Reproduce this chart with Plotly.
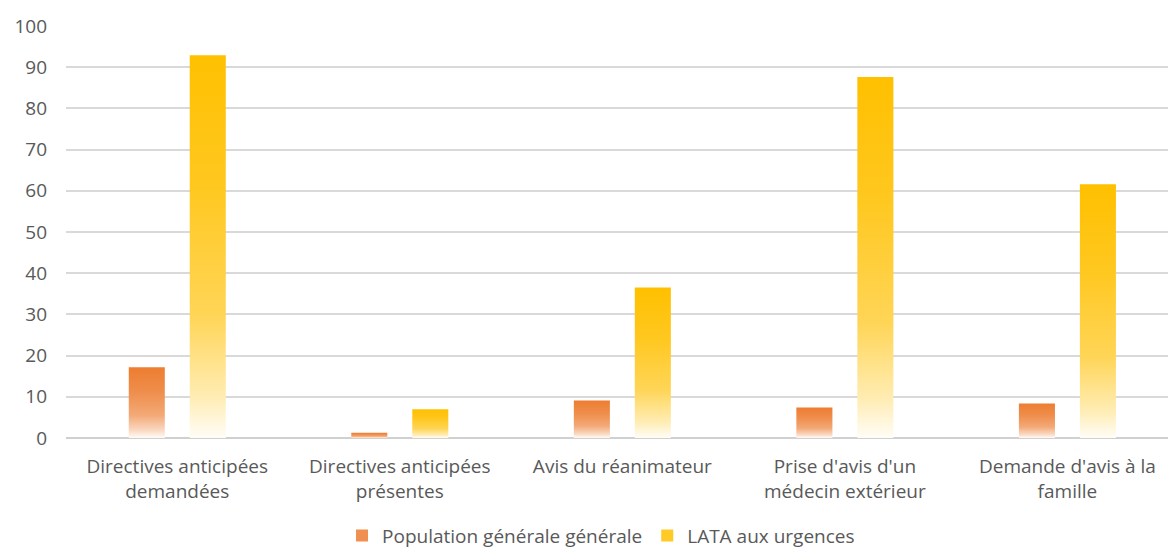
import plotly.graph_objects as go

categories = [
    "Directives anticipées<br>demandées",
    "Directives anticipées<br>présentes",
    "Avis du réanimateur",
    "Prise d'avis d'un<br>médecin extérieur",
    "Demande d'avis à la<br>famille",
]
pop_generale = [17.2, 1.3, 9.1, 7.4, 8.4]
lata_urgences = [92.9, 7.0, 36.5, 87.6, 61.6]

series = [
    ("Population générale générale", pop_generale, (237, 125, 49), -1),
    ("LATA aux urgences", lata_urgences, (255, 192, 0), 1),
]

BAR_W = 0.162
HALF_GAP = 0.137

# fraction of full colour along the bar height (bottom -> top)
fade = [(0.0, 0.03), (0.11, 0.30), (0.32, 0.66), (0.65, 0.87), (1.0, 1.0)]


def tint(rgb, m):
    r, g, b = (round(255 - (255 - c) * m) for c in rgb)
    return f"rgb({r},{g},{b})"


fig = go.Figure()
for name, values, rgb, side in series:
    scale = [[p, tint(rgb, m)] for p, m in fade]
    for i, v in enumerate(values):
        xc = i + side * HALF_GAP
        x0, x1 = xc - BAR_W / 2, xc + BAR_W / 2
        fig.add_trace(go.Scatter(
            x=[x0, x1, x1, x0, x0],
            y=[0, 0, v, v, 0],
            mode="lines",
            fill="toself",
            line=dict(width=0, color=tint(rgb, 1)),
            fillgradient=dict(type="vertical", colorscale=scale, start=0, stop=v),
            name=name,
            legendgroup=name,
            showlegend=False,
            hovertemplate=f"{categories[i].replace('<br>', ' ')}: {v}<extra>{name}</extra>",
        ))
    # square legend swatch for the series
    fig.add_trace(go.Bar(
        x=[None], y=[None],
        name=name,
        legendgroup=name,
        marker=dict(color=tint(rgb, 0.85), line=dict(width=0)),
        showlegend=True,
    ))

font = "Open Sans, sans-serif"
fig.update_layout(
    width=1168,
    height=549,
    margin=dict(l=66, r=0, t=26, b=111, autoexpand=False),
    paper_bgcolor="white",
    plot_bgcolor="white",
    font=dict(family=font, size=19, color="#595959"),
    showlegend=True,
    legend=dict(
        orientation="h",
        x=0.4855,
        xanchor="center",
        y=-0.237,
        yanchor="middle",
        font=dict(size=19, color="#595959"),
        itemwidth=30,
        tracegroupgap=0,
    ),
    xaxis=dict(
        range=[-0.5, 4.452],
        tickmode="array",
        tickvals=list(range(len(categories))),
        ticktext=categories,
        showgrid=False,
        zeroline=False,
        showline=False,
        ticks="",
        ticklabelstandoff=15,
        tickfont=dict(size=19, color="#595959"),
        fixedrange=True,
    ),
    yaxis=dict(
        range=[0, 100],
        dtick=10,
        showgrid=True,
        gridcolor="#D9D9D9",
        gridwidth=1.5,
        zeroline=True,
        zerolinecolor="#D0D0D0",
        zerolinewidth=2,
        showline=False,
        ticks="",
        ticklabelstandoff=18,
        tickfont=dict(size=19, color="#595959"),
        fixedrange=True,
    ),
)

fig.write_html("out.html")
